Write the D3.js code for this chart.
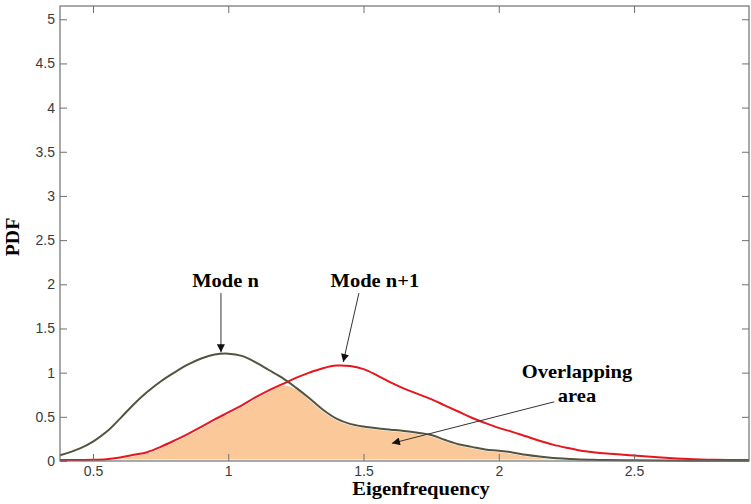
<!DOCTYPE html>
<html>
<head>
<meta charset="utf-8">
<script src="https://cdn.jsdelivr.net/npm/d3@7"></script>
<style>
    body { margin: 0; background: #fff; }
    #chart-area { width: 751px; height: 504px; }
</style>
</head>
<body>
<div id="chart-area"></div>
<script>
/* * * * * * * * * * * * * *
*        PDF OVERLAP       *
* * * * * * * * * * * * * */

// eigenfrequency grid shared by both curves
const freq = [0.378, 0.45, 0.5, 0.55, 0.6, 0.65, 0.7, 0.75, 0.8, 0.85, 0.9, 0.95, 1.0, 1.05, 1.1, 1.15,
    1.2, 1.25, 1.3, 1.35, 1.4, 1.45, 1.5, 1.55, 1.6, 1.65, 1.7, 1.75, 1.8, 1.85, 1.9, 1.95, 2.0, 2.05,
    2.1, 2.15, 2.2, 2.25, 2.3, 2.35, 2.4, 2.5, 2.6, 2.7, 2.8, 2.925];

// pdf of mode n (dark curve)
const pdfModeN = [0.065, 0.14, 0.22, 0.33, 0.48, 0.64, 0.78, 0.90, 1.0, 1.09, 1.16, 1.205, 1.215, 1.19, 1.12, 1.03,
    0.94, 0.83, 0.71, 0.58, 0.48, 0.42, 0.39, 0.37, 0.355, 0.34, 0.32, 0.295, 0.24, 0.19, 0.16, 0.13, 0.115, 0.097,
    0.07, 0.05, 0.035, 0.025, 0.016, 0.013, 0.01, 0.008, 0.005, 0.003, 0.002, 0.001];

// pdf of mode n+1 (red curve)
const pdfModeN1 = [0.012, 0.012, 0.013, 0.02, 0.04, 0.07, 0.10, 0.16, 0.23, 0.305, 0.385, 0.47, 0.55, 0.63, 0.72, 0.80,
    0.87, 0.94, 1.0, 1.05, 1.08, 1.075, 1.04, 0.97, 0.89, 0.82, 0.76, 0.70, 0.63, 0.56, 0.49, 0.43, 0.375, 0.33,
    0.28, 0.23, 0.185, 0.15, 0.12, 0.10, 0.085, 0.063, 0.04, 0.022, 0.013, 0.01];

// tick values
const xTicks = [0.5, 1, 1.5, 2, 2.5];
const yTicks = [0, 0.5, 1, 1.5, 2, 2.5, 3, 3.5, 4, 4.5, 5];

// annotations: label lines and arrows in data units
const labels = [
    {text: "Mode n", x: 0.99, y: 1.97},
    {text: "Mode n+1", x: 1.542, y: 1.97},
    {text: "Overlapping", x: 2.289, y: 0.94},
    {text: "area", x: 2.289, y: 0.67}
];
const arrows = [
    {x1: 0.973, y1: 1.90, x2: 0.973, y2: 1.23},
    {x1: 1.483, y1: 1.90, x2: 1.425, y2: 1.12},
    {x1: 2.205, y1: 0.67, x2: 1.605, y2: 0.20}
];

class PdfVis {

    constructor(parentElement) {
        this.parentElement = parentElement;
        this.initVis();
    }

    initVis() {
        let vis = this;

        vis.margin = {top: 6, right: 2, bottom: 43, left: 60};
        vis.width = 751 - vis.margin.left - vis.margin.right;
        vis.height = 504 - vis.margin.top - vis.margin.bottom;

        vis.svg = d3.select("#" + vis.parentElement)
            .append("svg")
            .attr("width", 751)
            .attr("height", 504);

        vis.g = vis.svg.append("g")
            .attr("transform", `translate(${vis.margin.left},${vis.margin.top})`);

        // scales
        vis.x = d3.scaleLinear().domain([0.378, 2.925]).range([0, vis.width]);
        vis.y = d3.scaleLinear().domain([0, 5.15]).range([vis.height, 0]);

        vis.data = freq.map((f, i) => ({f: f, a: pdfModeN[i], b: pdfModeN1[i]}));

        vis.updateVis();
    }

    updateVis() {
        let vis = this;
        let serif = "'Liberation Serif', 'Times New Roman', serif";
        let curve = d3.curveCatmullRom.alpha(0.5);

        // overlapping area = min of the two pdfs
        let area = d3.area()
            .x(d => vis.x(d.f))
            .y0(vis.y(0))
            .y1(d => vis.y(Math.min(d.a, d.b)))
            .curve(curve);

        vis.g.append("path")
            .datum(vis.data)
            .attr("d", area)
            .attr("fill", "#fbc89a")
            .attr("stroke", "#fff")
            .attr("stroke-width", 3);

        let lineA = d3.line().x(d => vis.x(d.f)).y(d => vis.y(d.a)).curve(curve);
        let lineB = d3.line().x(d => vis.x(d.f)).y(d => vis.y(d.b)).curve(curve);

        vis.g.append("path")
            .datum(vis.data)
            .attr("d", lineB)
            .attr("fill", "none")
            .attr("stroke", "#e8161c")
            .attr("stroke-width", 2);

        vis.g.append("path")
            .datum(vis.data)
            .attr("d", lineA)
            .attr("fill", "none")
            .attr("stroke", "#525440")
            .attr("stroke-width", 2);

        // axes, ticks pointing inward
        let axisColor = "#707070";

        let bottom = vis.g.append("g")
            .attr("transform", `translate(0,${vis.height})`)
            .call(d3.axisBottom(vis.x).tickValues(xTicks).tickSize(-7).tickPadding(5).tickFormat(d3.format("")));
        let left = vis.g.append("g")
            .call(d3.axisLeft(vis.y).tickValues(yTicks).tickSize(-7).tickPadding(5).tickFormat(d3.format("")));
        let top = vis.g.append("g")
            .call(d3.axisTop(vis.x).tickValues(xTicks).tickSize(-7).tickFormat(""));
        let right = vis.g.append("g")
            .attr("transform", `translate(${vis.width},0)`)
            .call(d3.axisRight(vis.y).tickValues(yTicks).tickSize(-7).tickFormat(""));

        [bottom, left, top, right].forEach(a => {
            a.select(".domain").remove();
            a.selectAll("line").attr("stroke", axisColor);
            a.selectAll("text")
                .attr("fill", "#3a3a3a")
                .style("font-family", "'Liberation Sans', Arial, sans-serif")
                .style("font-size", "14px");
        });

        // plot box
        vis.g.append("rect")
            .attr("width", vis.width)
            .attr("height", vis.height)
            .attr("fill", "none")
            .attr("stroke", axisColor)
            .attr("stroke-width", 1.2);

        // axis titles
        vis.svg.append("text")
            .attr("transform", "translate(421,495) scale(1.14,1)")
            .attr("text-anchor", "middle")
            .style("font-family", serif)
            .style("font-weight", "bold")
            .style("font-size", "18px")
            .text("Eigenfrequency");

        vis.svg.append("text")
            .attr("transform", "translate(19,237) rotate(-90) scale(1.1,1)")
            .attr("text-anchor", "middle")
            .style("font-family", serif)
            .style("font-weight", "bold")
            .style("font-size", "18px")
            .text("PDF");

        // arrow marker
        vis.svg.append("defs").append("marker")
            .attr("id", "arrowhead")
            .attr("viewBox", "0 0 10 10")
            .attr("refX", 10)
            .attr("refY", 5)
            .attr("markerUnits", "userSpaceOnUse")
            .attr("markerWidth", 11)
            .attr("markerHeight", 8)
            .attr("orient", "auto")
            .append("path")
            .attr("d", "M0,0 L10,5 L0,10 Z")
            .attr("fill", "#111");

        vis.g.selectAll(".arrow")
            .data(arrows)
            .join("line")
            .attr("class", "arrow")
            .attr("x1", d => vis.x(d.x1))
            .attr("y1", d => vis.y(d.y1))
            .attr("x2", d => vis.x(d.x2))
            .attr("y2", d => vis.y(d.y2))
            .attr("stroke", "#333")
            .attr("stroke-width", 1)
            .attr("marker-end", "url(#arrowhead)");

        vis.g.selectAll(".note")
            .data(labels)
            .join("text")
            .attr("class", "note")
            .attr("transform", d => `translate(${vis.x(d.x)},${vis.y(d.y)}) scale(1.14,1)`)
            .attr("text-anchor", "middle")
            .style("font-family", serif)
            .style("font-weight", "bold")
            .style("font-size", "18px")
            .text(d => d.text);
    }
}

new PdfVis("chart-area");
</script>
</body>
</html>
